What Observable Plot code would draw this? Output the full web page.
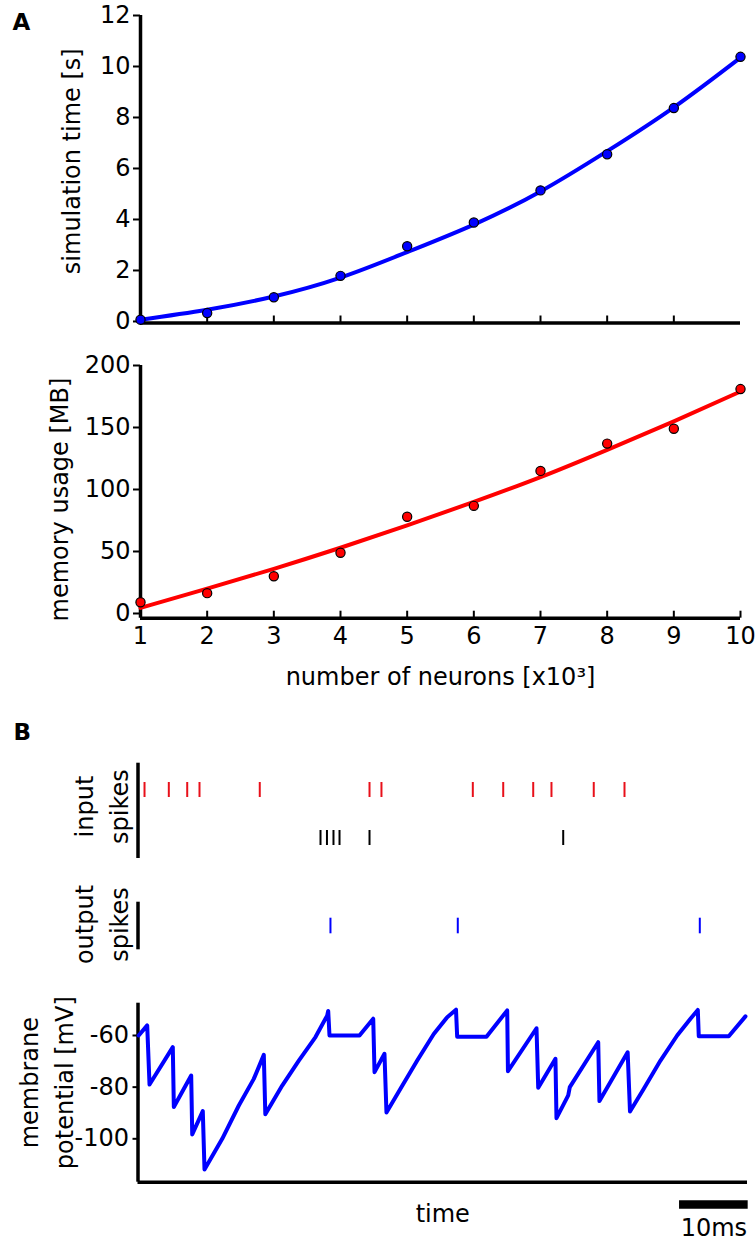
<!DOCTYPE html>
<html><head><meta charset="utf-8">
<script src="https://cdn.jsdelivr.net/npm/d3@7"></script>
<script src="https://cdn.jsdelivr.net/npm/@observablehq/plot@0.6"></script>
<style>
html,body{margin:0;padding:0;background:#fff;}
#fig{position:relative;width:756px;height:1247px;overflow:hidden;}
#fig svg{position:absolute;left:0;}
</style></head><body><div id="fig"></div>
<script>
// ---------- Panel A data ----------
const neuronsK = [1, 2, 3, 4, 5, 6, 7, 8, 9, 10];
const simTime = [0.07, 0.33, 0.95, 1.79, 2.95, 3.88, 5.14, 6.56, 8.37, 10.38];
const simTimeFit = [0.07, 0.46, 0.98, 1.72, 2.72, 3.8, 5.1, 6.68, 8.4, 10.35];
const memoryMB = [9.1, 16.4, 30, 49, 78, 86.8, 115, 137, 149, 181];
const memoryFit = [4.5, 20, 36, 53, 71, 90, 110, 132, 155, 179];
const timeTicks = [0, 2, 4, 6, 8, 10, 12];
const memTicks = [0, 50, 100, 150, 200];
const topInnerTicks = [2, 3, 4, 5, 6, 7, 8, 9];
const bottomInnerTicks = [2, 3, 4, 5, 6, 7, 8, 9, 10];

// ---------- Panel B data (time in ms) ----------
const redSpikes = [0.95, 4.49, 7.17, 8.96, 17.74, 33.73, 35.47, 48.78, 53.21, 57.58, 60.24, 66.40, 70.88];
const blackSpikes = [26.59, 27.53, 28.48, 29.36, 33.73, 61.95];
const outputSpikes = [28.04, 46.59, 81.85];
const traceT = [0.1, 1.34, 1.68, 5.07, 5.22, 7.75, 7.90, 9.44, 9.69, 12.27, 14.69, 16.87, 18.33, 18.55, 21.01, 23.43, 25.86, 27.56, 27.71, 27.90, 32.27, 34.27, 34.46, 35.91, 36.20, 38.24, 40.68, 43.09, 45.05, 46.33, 46.50, 50.77, 53.79, 53.90, 58.06, 58.31, 60.82, 60.97, 62.68, 62.91, 67.05, 67.23, 71.34, 71.68, 73.69, 76.12, 78.55, 80.49, 81.56, 81.70, 86.07, 88.50];
const traceV = [-60, -56.1, -79, -64.5, -87.7, -75.5, -98.3, -89.3, -111.9, -100, -87.1, -76.8, -67.5, -90.5, -79.4, -69.7, -60.6, -52.3, -50.5, -60, -60, -53.5, -74.2, -67.1, -89.8, -80.6, -69.7, -59.4, -52.9, -50, -60.5, -60.5, -50.3, -73.8, -57.2, -80.2, -69, -92, -83.2, -80, -62.6, -85.4, -66.5, -89.4, -80.6, -69.7, -60, -53.5, -50.1, -60.3, -60.3, -52.6];
const vTicks = [-60, -80, -100];
const scaleBarStart = 78.9;
const scaleBarLength = 10;

const FONT = "DejaVu Sans, Verdana, sans-serif";
const BLUE = "#0000ff";
const RED = "#ff0000";
const SPIKE_RED = "#e8101a";
const fig = document.getElementById("fig");
const baseStyle = {fontFamily: FONT, fontSize: "24px", color: "black", background: "white", overflow: "visible"};
const fmt = d => String(d);

function place(svg, top) {
  svg.style.top = top + "px";
  fig.appendChild(svg);
}
const vlabel = (txt, dx, dy) => Plot.text([txt], {frameAnchor: "left", dx, dy, rotate: -90, textAnchor: "middle", lineAnchor: "middle", lineHeight: 1.46, fontSize: 24});
const hlabel = (txt, dy, extra = {}) => Plot.text([txt], {frameAnchor: "bottom", dy, textAnchor: "middle", lineAnchor: "middle", fontSize: 24, ...extra});

// ---------- A: simulation time ----------
const simPts = neuronsK.map((n, i) => ({n, v: simTime[i]}));
const simFit = neuronsK.map((n, i) => ({n, v: simTimeFit[i]}));
const yMinA1 = -0.06;
const a1 = Plot.plot({
  width: 756, height: 335,
  marginLeft: 140, marginRight: 16, marginTop: 15, marginBottom: 12.5,
  x: {domain: [1, 10], axis: null},
  y: {domain: [yMinA1, 12], axis: null},
  style: baseStyle,
  marks: [
    Plot.axisY({ticks: timeTicks, tickFormat: fmt, tickSize: 7, tickPadding: 3, strokeWidth: 2, label: null}),
    Plot.ruleX(topInnerTicks, {x: d => d, y1: yMinA1, y2: yMinA1, insetTop: -7, strokeWidth: 2}),
    Plot.ruleX([1], {strokeWidth: 3.5}),
    Plot.ruleY([yMinA1], {strokeWidth: 3.5}),
    Plot.line(simFit, {x: "n", y: "v", stroke: BLUE, strokeWidth: 4, curve: "natural"}),
    Plot.dot(simPts, {x: "n", y: "v", r: 4.6, fill: BLUE, stroke: "black", strokeWidth: 1.2}),
    vlabel("simulation time [s]", -71.7, -8),
    Plot.text(["A"], {frameAnchor: "top-left", dx: -128, dy: -1.5, textAnchor: "start", lineAnchor: "top", fontWeight: "bold", fontSize: 23})
  ]
});
place(a1, 0);

// ---------- A: memory usage ----------
const memPts = neuronsK.map((n, i) => ({n, v: memoryMB[i]}));
const memFit = neuronsK.map((n, i) => ({n, v: memoryFit[i]}));
const yMinA2 = -3.8;
const a2 = Plot.plot({
  width: 756, height: 365,
  marginLeft: 140, marginRight: 16, marginTop: 30, marginBottom: 82.3,
  x: {domain: [1, 10]},
  y: {domain: [yMinA2, 200], axis: null},
  style: baseStyle,
  marks: [
    Plot.axisY({ticks: memTicks, tickFormat: fmt, tickSize: 7, tickPadding: 3, strokeWidth: 2, label: null}),
    Plot.axisX({ticks: neuronsK, tickFormat: fmt, tickSize: 0, tickPadding: 9, label: null}),
    Plot.ruleX(bottomInnerTicks, {x: d => d, y1: yMinA2, y2: yMinA2, insetTop: -7, strokeWidth: 2}),
    Plot.ruleX([1], {strokeWidth: 3.5}),
    Plot.ruleY([yMinA2], {strokeWidth: 3.5}),
    Plot.line(memFit, {x: "n", y: "v", stroke: RED, strokeWidth: 4, curve: "natural"}),
    Plot.dot(memPts, {x: "n", y: "v", r: 4.6, fill: RED, stroke: "black", strokeWidth: 1.2}),
    vlabel("memory usage [MB]", -83.3, 7.7),
    hlabel("number of neurons [x10³]", 59.6)
  ]
});
place(a2, 335);

// ---------- B: input spikes ----------
const TDOM = [0, 88.8];
const inputRows = ["row1", "row2"];
const b1 = Plot.plot({
  width: 756, height: 150,
  marginLeft: 137.5, marginRight: 9, marginTop: 47.7, marginBottom: 7,
  x: {domain: TDOM, axis: null},
  y: {type: "band", domain: inputRows, range: [66.7, 130], paddingInner: 0.69, paddingOuter: 0, axis: null},
  style: baseStyle,
  marks: [
    Plot.ruleX([0], {strokeWidth: 3.5}),
    Plot.tickX(redSpikes.map(t => ({t, row: inputRows[0]})), {x: "t", y: "row", stroke: SPIKE_RED, strokeWidth: 2}),
    Plot.tickX(blackSpikes.map(t => ({t, row: inputRows[1]})), {x: "t", y: "row", stroke: "black", strokeWidth: 2}),
    vlabel("input\nspikes", -38.3, -4.3),
    Plot.text(["B"], {frameAnchor: "top-left", dx: -124.5, dy: -40, textAnchor: "start", lineAnchor: "top", fontWeight: "bold", fontSize: 23})
  ]
});
place(b1, 715);

// ---------- B: output spikes ----------
const b2 = Plot.plot({
  width: 756, height: 80,
  marginLeft: 137.5, marginRight: 9, marginTop: 21.7, marginBottom: 10.7,
  x: {domain: TDOM, axis: null},
  y: {axis: null},
  style: baseStyle,
  marks: [
    Plot.ruleX([0], {strokeWidth: 3.5}),
    Plot.ruleX(outputSpikes, {x: d => d, insetTop: 16, insetBottom: 16, stroke: BLUE, strokeWidth: 2}),
    vlabel("output\nspikes", -38.5, -1.5)
  ]
});
place(b2, 880);

// ---------- B: membrane potential ----------
const trace = traceT.map((t, i) => ({t, v: traceV[i]}));
const yMinB3 = -116.8;
const b3 = Plot.plot({
  width: 756, height: 257,
  marginLeft: 137.5, marginRight: 9, marginTop: 12.7, marginBottom: 65.3,
  x: {domain: TDOM, axis: null},
  y: {domain: [yMinB3, -47.5], axis: null},
  style: baseStyle,
  marks: [
    Plot.axisY({ticks: vTicks, tickFormat: fmt, tickSize: 5, tickPadding: 4, strokeWidth: 2, label: null}),
    Plot.ruleX([0], {strokeWidth: 3.5}),
    Plot.ruleY([yMinB3], {strokeWidth: 3.5}),
    Plot.line(trace, {x: "t", y: "v", stroke: BLUE, strokeWidth: 4}),
    vlabel("membrane\npotential [mV]", -93.3, -10),
    hlabel("time", 32.3),
    Plot.ruleY([yMinB3], {x1: scaleBarStart, x2: scaleBarStart + scaleBarLength, dy: 22.3, strokeWidth: 8.3, strokeLinecap: "butt"}),
    hlabel("10ms", 46.6, {x: scaleBarStart + scaleBarLength / 2})
  ]
});
place(b3, 990);
</script>
</body></html>
